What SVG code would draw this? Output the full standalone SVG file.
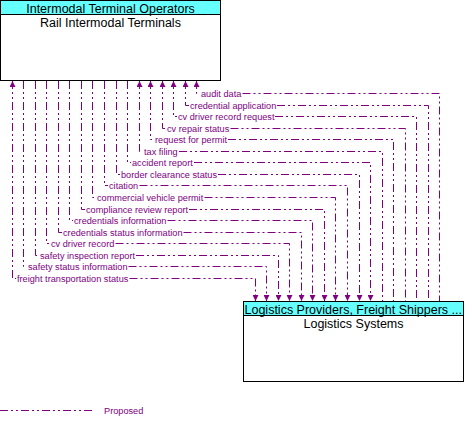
<svg xmlns="http://www.w3.org/2000/svg" width="472" height="427" viewBox="0 0 472 427">
<style>
.box{fill:#fff;stroke:#000;stroke-width:1}
.hdr{fill:#66ffff;stroke:#000;stroke-width:1}
.ht{font-family:"Liberation Sans",Arial,sans-serif;font-size:12.5px;fill:#000}
.fl{fill:none;stroke:#800080;stroke-width:1;stroke-dasharray:8 3 2 3 2 3}
.lb{font-family:"Liberation Sans",Arial,sans-serif;font-size:9.2px;fill:#800080}
.up{marker-start:url(#ah)}
.dn{marker-end:url(#ah)}
</style>
<defs>
<marker id="ah" viewBox="0 0 6 6" refX="6" refY="3" markerWidth="6" markerHeight="6" markerUnits="userSpaceOnUse" orient="auto-start-reverse">
<path d="M0,0 L6,3 L0,6 z" fill="#800080"/>
</marker>
</defs>
<rect width="472" height="427" fill="#fff"/>
<g id="rail-intermodal-terminals">
<rect class="box" x="0.5" y="0.5" width="220" height="80"/>
<rect class="hdr" x="0.5" y="0.5" width="220" height="14"/>
<text class="ht" x="110.5" y="12.5" text-anchor="middle">Intermodal Terminal Operators</text>
<text class="ht" x="110.5" y="27" text-anchor="middle">Rail Intermodal Terminals</text>
</g>
<g id="logistics-systems">
<rect class="box" x="243.5" y="301.5" width="220" height="80"/>
<rect class="hdr" x="243.5" y="301.5" width="220" height="14"/>
<text class="ht" x="244.5" y="313.5">Logistics Providers, Freight Shippers ...</text>
<text class="ht" x="353.5" y="327.5" text-anchor="middle">Logistics Systems</text>
</g>
<g id="connectors">
<path class="fl up" d="M196.5,81 V93.5 H200 M242.5,93.5 H439.5 V301"/>
<text class="lb" x="201" y="96.5">audit data</text>
<path class="fl up" d="M185.5,81 V105.5 H189 M277,105.5 H428.5 V301"/>
<text class="lb" x="190" y="108.5">credential application</text>
<path class="fl up" d="M173.5,81 V116.5 H177 M275,116.5 H416.5 V301"/>
<text class="lb" x="178" y="119.5">cv driver record request</text>
<path class="fl up" d="M162.5,81 V128.5 H166 M230.5,128.5 H405.5 V301"/>
<text class="lb" x="167" y="131.5">cv repair status</text>
<path class="fl up" d="M150.5,81 V139.5 H154 M228,139.5 H393.5 V301"/>
<text class="lb" x="155" y="142.5">request for permit</text>
<path class="fl up" d="M139.5,81 V151.5 H143 M179,151.5 H382.5 V301"/>
<text class="lb" x="144" y="154.5">tax filing</text>
<path class="fl dn" d="M127.5,81 V162.5 H131 M194,162.5 H370.5 V301"/>
<text class="lb" x="132" y="165.5">accident report</text>
<path class="fl dn" d="M116.5,81 V174.5 H120 M218,174.5 H359.5 V301"/>
<text class="lb" x="121" y="177.5">border clearance status</text>
<path class="fl dn" d="M104.5,81 V185.5 H108 M139.5,185.5 H347.5 V301"/>
<text class="lb" x="109" y="188.5">citation</text>
<path class="fl dn" d="M92.5,81 V197.5 H96 M204.5,197.5 H335.5 V301"/>
<text class="lb" x="97" y="200.5">commercial vehicle permit</text>
<path class="fl dn" d="M81.5,81 V209.5 H85 M189,209.5 H324.5 V301"/>
<text class="lb" x="86" y="212.5">compliance review report</text>
<path class="fl dn" d="M69.5,81 V220.5 H73 M167.5,220.5 H312.5 V301"/>
<text class="lb" x="74" y="223.5">credentials information</text>
<path class="fl dn" d="M58.5,81 V232.5 H62 M183.5,232.5 H301.5 V301"/>
<text class="lb" x="63" y="235.5">credentials status information</text>
<path class="fl dn" d="M46.5,81 V243.5 H50 M115.5,243.5 H289.5 V301"/>
<text class="lb" x="51" y="246.5">cv driver record</text>
<path class="fl dn" d="M35.5,81 V255.5 H39 M136,255.5 H278.5 V301"/>
<text class="lb" x="40" y="258.5">safety inspection report</text>
<path class="fl dn" d="M23.5,81 V266.5 H27 M128.5,266.5 H266.5 V301"/>
<text class="lb" x="28" y="269.5">safety status information</text>
<path class="fl up dn" d="M12.5,81 V278.5 H16 M129.5,278.5 H255.5 V301"/>
<text class="lb" x="17" y="281.5">freight transportation status</text>
</g>
<g id="legend">
<path class="fl" d="M0,410.5 H93"/>
<text class="lb" x="104" y="414">Proposed</text>
</g>
</svg>
